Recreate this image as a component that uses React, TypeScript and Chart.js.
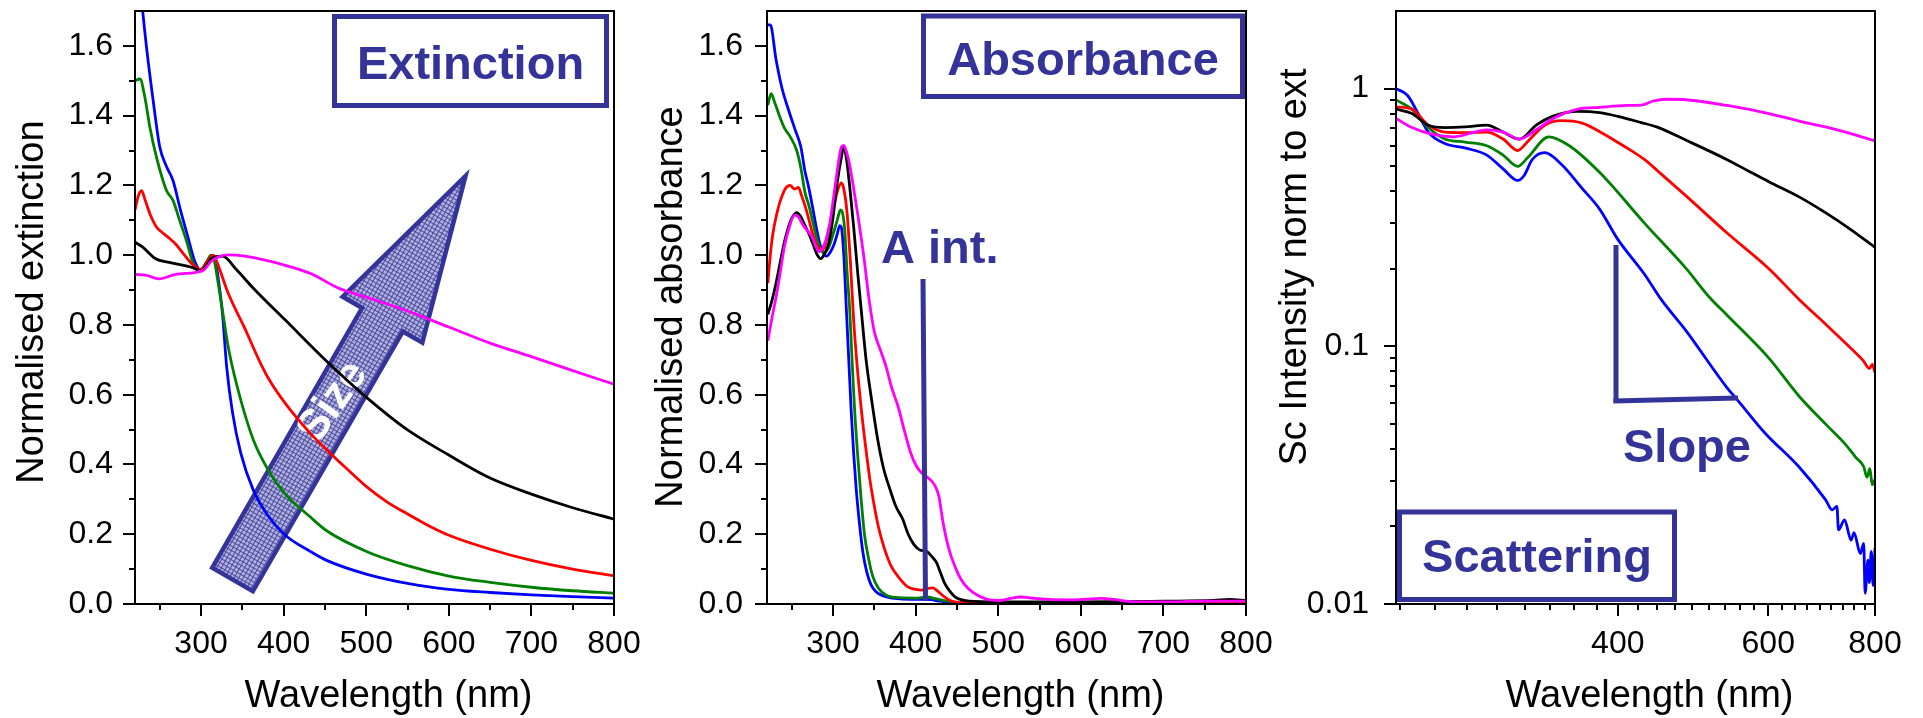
import React, { useEffect, useRef } from 'react';
import { Chart, registerables } from 'chart.js';

Chart.register(...registerables);

const FONT = '"Liberation Sans", Arial, Helvetica, sans-serif';
const NAVY = '#333399';
const BLUE = '#0000ff';
const GREEN = '#008000';
const RED = '#ff0000';
const BLACK = '#000000';
const MAGENTA = '#ff00ff';

type Pt = [number, number];

// ---------- Extinction spectra (normalised) ----------
const extBlue: Pt[] = [
  [220, 1.95], [229.3, 1.7], [234, 1.595], [242, 1.443], [250, 1.31], [258, 1.255], [266, 1.214],
  [275, 1.13], [284.5, 1.048], [292, 0.985], [299, 0.958], [305, 0.965], [310, 0.985], [314, 0.998],
  [318, 0.975], [321, 0.93], [326, 0.83], [331, 0.68], [338, 0.55], [348, 0.433], [363, 0.328],
  [382, 0.25], [402, 0.197], [432, 0.151], [452, 0.125], [501, 0.085], [550, 0.059], [600, 0.042],
  [650, 0.033], [700, 0.026], [750, 0.021], [800, 0.017],
];
const extGreen: Pt[] = [
  [220, 1.5], [226, 1.505], [232, 1.452], [238, 1.367], [246, 1.281], [258, 1.186], [266, 1.157],
  [274, 1.1], [282.5, 1.04], [290, 0.98], [299, 0.958], [306, 0.978], [312, 1.0], [316, 0.985],
  [320, 0.93], [326, 0.84], [333, 0.735], [343, 0.63], [363, 0.472], [382, 0.381], [402, 0.315],
  [432, 0.25], [452, 0.21], [501, 0.15], [550, 0.11], [600, 0.08], [650, 0.062], [700, 0.048],
  [750, 0.038], [800, 0.031],
];
const extRed: Pt[] = [
  [220, 1.13], [224, 1.17], [228, 1.185], [232, 1.16], [238, 1.119], [246, 1.081], [254, 1.063],
  [262, 1.048], [270, 1.03], [280, 1.0], [289, 0.975], [300, 0.958], [308, 0.984], [315, 1.0],
  [320, 0.975], [333, 0.89], [353, 0.79], [370, 0.7], [382, 0.645], [402, 0.575], [432, 0.49],
  [456, 0.433], [480, 0.38], [501, 0.335], [525, 0.293], [550, 0.258], [575, 0.225], [600, 0.197],
  [650, 0.157], [700, 0.125], [750, 0.1], [800, 0.081],
];
const extBlack: Pt[] = [
  [220, 1.037], [229, 1.024], [244, 0.991], [264, 0.978], [289, 0.965], [300, 0.955], [313, 0.991],
  [326, 0.997], [343, 0.958], [363, 0.906], [402, 0.814], [452, 0.696], [501, 0.591], [550, 0.499],
  [600, 0.427], [650, 0.361], [700, 0.315], [750, 0.276], [800, 0.243],
];
const extMagenta: Pt[] = [
  [220, 0.945], [234, 0.942], [249, 0.932], [269, 0.945], [294, 0.951], [303.5, 0.958], [313, 0.984],
  [333, 1.001], [353, 0.997], [402, 0.971], [432, 0.948], [466, 0.906], [501, 0.879], [550, 0.84],
  [600, 0.794], [650, 0.748], [700, 0.709], [750, 0.669], [800, 0.63],
];

// ---------- Absorbance spectra (normalised) ----------
const absBlue: Pt[] = [
  [221, 1.66], [224, 1.66], [231, 1.56], [238, 1.48], [246, 1.417], [254, 1.36], [261, 1.31],
  [266, 1.24], [270, 1.2], [275, 1.14], [280, 1.076], [285, 1.024], [292, 0.997], [297, 1.01],
  [301, 1.03], [305, 1.06], [308, 1.085], [310, 1.08], [313, 1.0], [316, 0.85], [319, 0.7],
  [322, 0.551], [325, 0.43], [328, 0.33], [332, 0.23], [336, 0.15], [341, 0.09], [346, 0.055],
  [352, 0.035], [360, 0.024], [375, 0.016], [395, 0.013], [413, 0.013], [430, 0.008], [445, 0.003],
  [460, 0.002], [500, 0.002], [800, 0.003],
];
const absGreen: Pt[] = [
  [221, 1.43], [225, 1.463], [229, 1.44], [235, 1.4], [241, 1.365], [248, 1.34], [256, 1.3],
  [261, 1.25], [266, 1.18], [271, 1.14], [275, 1.1], [280, 1.05], [284, 1.02], [289, 1.008],
  [295, 1.024], [300, 1.06], [305, 1.1], [309, 1.13], [311, 1.125], [314, 1.076], [317, 0.95],
  [320, 0.85], [323, 0.7], [326, 0.56], [330, 0.42], [334, 0.3], [338, 0.2], [343, 0.13],
  [348, 0.08], [355, 0.045], [364, 0.026], [380, 0.018], [400, 0.017], [413, 0.02], [425, 0.015],
  [440, 0.008], [460, 0.003], [800, 0.003],
];
const absRed: Pt[] = [
  [221, 0.92], [224, 1.0], [227, 1.06], [232, 1.12], [236, 1.155], [242, 1.19], [248, 1.2],
  [253, 1.19], [258, 1.194], [262, 1.17], [266, 1.142], [271, 1.1], [275, 1.063], [280, 1.03],
  [285, 1.015], [289, 1.02], [295, 1.076], [300, 1.13], [305, 1.181], [310, 1.207], [313, 1.19],
  [317, 1.12], [321, 0.98], [325, 0.81], [330, 0.66], [335, 0.54], [340, 0.44], [345, 0.35],
  [350, 0.28], [355, 0.22], [362, 0.16], [370, 0.11], [380, 0.075], [390, 0.05], [400, 0.042],
  [408, 0.04], [415, 0.045], [421, 0.046], [427, 0.036], [434, 0.022], [442, 0.01], [450, 0.005],
  [480, 0.004], [800, 0.006],
];
const absBlack: Pt[] = [
  [221, 0.83], [226, 0.87], [231, 0.92], [236, 0.98], [241, 1.037], [246, 1.08], [251, 1.11],
  [256, 1.122], [261, 1.11], [266, 1.085], [271, 1.06], [276, 1.03], [281, 1.0], [285, 0.99],
  [290, 1.005], [295, 1.037], [300, 1.11], [305, 1.207], [310, 1.28], [313, 1.31], [316, 1.28],
  [320, 1.2], [325, 1.08], [330, 0.945], [335, 0.82], [340, 0.7], [347, 0.58], [354, 0.472],
  [361, 0.39], [369, 0.328], [376, 0.28], [384, 0.245], [391, 0.2], [398, 0.17], [405, 0.155],
  [413, 0.151], [420, 0.135], [425, 0.12], [430, 0.09], [435, 0.06], [442, 0.035], [448, 0.02],
  [456, 0.012], [465, 0.008], [500, 0.006], [600, 0.006], [700, 0.008], [760, 0.01], [780, 0.013],
  [800, 0.01],
];
const absMagenta: Pt[] = [
  [221, 0.755], [226, 0.82], [231, 0.88], [236, 0.95], [241, 1.024], [247, 1.08], [253, 1.115],
  [258, 1.11], [263, 1.089], [269, 1.07], [275, 1.05], [280, 1.02], [283, 1.01], [287, 1.02],
  [291, 1.04], [296, 1.09], [300, 1.155], [305, 1.24], [310, 1.31], [313, 1.315], [317, 1.29],
  [320, 1.26], [325, 1.19], [330, 1.115], [337, 1.0], [344, 0.866], [350, 0.78], [357, 0.73],
  [364, 0.682], [371, 0.62], [379, 0.564], [386, 0.5], [394, 0.433], [401, 0.395], [408, 0.374],
  [416, 0.36], [423, 0.341], [428, 0.31], [433, 0.236], [440, 0.16], [448, 0.105], [455, 0.07],
  [463, 0.046], [475, 0.025], [487, 0.013], [502, 0.01], [515, 0.016], [527, 0.02], [545, 0.016],
  [561, 0.013], [590, 0.012], [625, 0.016], [640, 0.013], [660, 0.007], [700, 0.006], [750, 0.008],
  [800, 0.008],
];

// ---------- Scattering intensity normalised to extinction ----------
const scaBlue: Pt[] = [
  [220, 1.0], [227, 0.94], [233.5, 0.8], [240, 0.678], [251, 0.612], [265.6, 0.587], [281, 0.552],
  [293.6, 0.488], [305.4, 0.44], [310.6, 0.459], [317.6, 0.53], [328.4, 0.564], [343.5, 0.509],
  [363.3, 0.41], [381, 0.34], [400, 0.26], [430, 0.19], [449.5, 0.152], [480.6, 0.115],
  [537, 0.069], [552, 0.062], [595, 0.046], [652, 0.034], [700, 0.0254], [713, 0.0232],
  [722, 0.0239], [725, 0.0194], [737, 0.0212], [750, 0.0177], [756, 0.0189], [769, 0.0157],
  [776, 0.0172], [779, 0.011], [785, 0.0148], [788, 0.0121], [792, 0.016], [796, 0.0118],
  [800, 0.0165],
];
const scaGreen: Pt[] = [
  [220, 0.903], [229.6, 0.832], [240, 0.706], [251, 0.637], [265, 0.62], [281, 0.6], [293.6, 0.552],
  [305.4, 0.499], [314, 0.541], [332, 0.65], [351, 0.6], [381, 0.472], [430, 0.3], [481, 0.2],
  [512, 0.155], [537, 0.132], [601, 0.09], [652, 0.064], [700, 0.05], [737, 0.042],
  [760, 0.037], [776, 0.0341], [783, 0.031], [789, 0.0335], [794, 0.029], [800, 0.0305],
];
const scaRed: Pt[] = [
  [220, 0.849], [229.6, 0.832], [240, 0.721], [251, 0.678], [265, 0.675], [281, 0.678],
  [293.6, 0.637], [305.4, 0.575], [314, 0.625], [328.4, 0.721], [343.5, 0.751], [363.3, 0.735],
  [384.2, 0.67], [406, 0.6], [430, 0.53], [448, 0.471], [480, 0.385], [537, 0.275], [601, 0.2],
  [652, 0.152], [700, 0.122], [748, 0.099], [775, 0.088], [788, 0.082], [794, 0.085], [800, 0.079],
];
const scaBlack: Pt[] = [
  [220, 0.832], [229.6, 0.8], [240, 0.721], [251, 0.706], [265, 0.71], [281, 0.721], [293.6, 0.678],
  [307, 0.637], [321, 0.721], [336, 0.782], [359, 0.815], [381, 0.806], [400, 0.78], [426, 0.738],
  [444, 0.71], [481, 0.63], [537, 0.53], [568, 0.48], [601, 0.435], [652, 0.38], [700, 0.33],
  [748, 0.285], [800, 0.242],
];
const scaMagenta: Pt[] = [
  [220, 0.766], [229.6, 0.706], [243, 0.664], [257, 0.65], [281, 0.692], [293.6, 0.678],
  [307, 0.637], [321, 0.692], [336, 0.766], [359, 0.832], [381, 0.846], [410, 0.86], [428, 0.865],
  [440, 0.895], [456, 0.909], [481, 0.905], [537, 0.86], [601, 0.8], [652, 0.748], [700, 0.71],
  [748, 0.67], [800, 0.626],
];

// ---------- Axis ticks ----------
const linXMajor = [300, 400, 500, 600, 700, 800];
const linXMinor = [250, 350, 450, 550, 650, 750];
const linYMajor = [0, 0.2, 0.4, 0.6, 0.8, 1.0, 1.2, 1.4, 1.6];
const linYMinor = [0.1, 0.3, 0.5, 0.7, 0.9, 1.1, 1.3, 1.5];
const logXMajor = [400, 600, 800];
const logXMinor = [
  222.2, 244.4, 266.7, 288.9, 311.1, 333.3, 355.6, 377.8,
  422.2, 444.4, 466.7, 488.9, 511.1, 533.3, 555.6, 577.8,
  622.2, 644.4, 666.7, 688.9, 711.1, 733.3, 755.6, 777.8,
];
const logYMajor = [0.01, 0.1, 1];
const logYMinor = [
  0.02, 0.03, 0.04, 0.05, 0.06, 0.07, 0.08, 0.09,
  0.2, 0.3, 0.4, 0.5, 0.6, 0.7, 0.8, 0.9,
];

const W = 1923;
const H = 718;

type Area = { left: number; top: number; right: number; bottom: number };

type Panel = {
  area: Area;
  xType: 'linear' | 'logarithmic';
  yType: 'linear' | 'logarithmic';
  xMin: number; xMax: number; yMin: number; yMax: number;
  xMajor: number[]; xMinor: number[]; yMajor: number[]; yMinor: number[];
  yFmt: (v: number) => string;
  yLabelGap: number;
  yTitle: string; yTitleGap: number; yTitleY: number;
  series: { data: Pt[]; color: string }[];
  under?: (ctx: CanvasRenderingContext2D, a: Area) => void;
  over?: (ctx: CanvasRenderingContext2D, a: Area) => void;
};

function titledBox(
  ctx: CanvasRenderingContext2D, a: Area,
  x0: number, y0: number, x1: number, y1: number,
  text: string, baseline: number,
) {
  const lw = 5;
  ctx.save();
  ctx.fillStyle = '#ffffff';
  ctx.fillRect(a.left + x0, a.top + y0, x1 - x0, y1 - y0);
  ctx.strokeStyle = NAVY;
  ctx.lineWidth = lw;
  ctx.strokeRect(a.left + x0 + lw / 2, a.top + y0 + lw / 2, x1 - x0 - lw, y1 - y0 - lw);
  ctx.fillStyle = NAVY;
  ctx.font = `bold 47px ${FONT}`;
  ctx.textAlign = 'center';
  ctx.textBaseline = 'alphabetic';
  ctx.fillText(text, a.left + (x0 + x1) / 2, a.top + baseline);
  ctx.restore();
}

function navyText(ctx: CanvasRenderingContext2D, a: Area, text: string, x: number, baseline: number) {
  ctx.save();
  ctx.fillStyle = NAVY;
  ctx.font = `bold 47px ${FONT}`;
  ctx.textAlign = 'left';
  ctx.textBaseline = 'alphabetic';
  ctx.fillText(text, a.left + x, a.top + baseline);
  ctx.restore();
}

function navyLine(ctx: CanvasRenderingContext2D, a: Area, pts: number[][]) {
  ctx.save();
  ctx.strokeStyle = NAVY;
  ctx.lineWidth = 5;
  ctx.lineCap = 'butt';
  ctx.lineJoin = 'miter';
  ctx.beginPath();
  pts.forEach(([x, y], i) => {
    if (i === 0) ctx.moveTo(a.left + x, a.top + y);
    else ctx.lineTo(a.left + x, a.top + y);
  });
  ctx.stroke();
  ctx.restore();
}

function hatchPattern(ctx: CanvasRenderingContext2D) {
  const c = document.createElement('canvas');
  c.width = 4;
  c.height = 4;
  const g = c.getContext('2d')!;
  g.fillStyle = '#b2b2dc';
  g.fillRect(0, 0, 4, 4);
  g.fillStyle = '#4a4aa2';
  g.fillRect(0, 0, 4, 1);
  g.fillRect(0, 0, 1, 4);
  return ctx.createPattern(c, 'repeat');
}

// Block arrow labelled "Size", pointing up-right across the extinction curves
function sizeArrow(ctx: CanvasRenderingContext2D, a: Area) {
  const tail = { x: a.left + 97.5, y: a.top + 568.5 };
  const ang = (-60 * Math.PI) / 180;
  const shaftLen = 300;
  const headLen = 166;
  const shaftHalf = 23.5;
  const headHalf = 46;
  ctx.save();
  ctx.translate(tail.x, tail.y);
  ctx.rotate(ang);
  ctx.beginPath();
  ctx.moveTo(0, -shaftHalf);
  ctx.lineTo(shaftLen, -shaftHalf);
  ctx.lineTo(shaftLen, -headHalf);
  ctx.lineTo(shaftLen + headLen, 0);
  ctx.lineTo(shaftLen, headHalf);
  ctx.lineTo(shaftLen, shaftHalf);
  ctx.lineTo(0, shaftHalf);
  ctx.closePath();
  ctx.fillStyle = hatchPattern(ctx) || '#8080c0';
  ctx.fill();
  ctx.strokeStyle = NAVY;
  ctx.lineWidth = 4.5;
  ctx.lineJoin = 'miter';
  ctx.stroke();
  ctx.restore();

  ctx.save();
  ctx.translate(a.left + 198, a.top + 391);
  ctx.rotate((-55 * Math.PI) / 180);
  ctx.fillStyle = '#ffffff';
  ctx.font = `bold 44px ${FONT}`;
  ctx.textAlign = 'center';
  ctx.textBaseline = 'middle';
  ctx.fillText('Size', 0, 0);
  ctx.restore();
}

const panels: Panel[] = [
  {
    area: { left: 135, top: 11, right: 614, bottom: 604 },
    xType: 'linear', yType: 'linear',
    xMin: 220, xMax: 800, yMin: 0, yMax: 1.7,
    xMajor: linXMajor, xMinor: linXMinor, yMajor: linYMajor, yMinor: linYMinor,
    yFmt: (v) => v.toFixed(1),
    yLabelGap: 22,
    yTitle: 'Normalised extinction', yTitleGap: 92, yTitleY: 302,
    series: [
      { data: extMagenta, color: MAGENTA },
      { data: extBlack, color: BLACK },
      { data: extRed, color: RED },
      { data: extGreen, color: GREEN },
      { data: extBlue, color: BLUE },
    ],
    under: sizeArrow,
    over: (ctx, a) => {
      titledBox(ctx, a, 197, 3, 474, 97, 'Extinction', 68);
    },
  },
  {
    area: { left: 767, top: 11, right: 1246, bottom: 604 },
    xType: 'linear', yType: 'linear',
    xMin: 220, xMax: 800, yMin: 0, yMax: 1.7,
    xMajor: linXMajor, xMinor: linXMinor, yMajor: linYMajor, yMinor: linYMinor,
    yFmt: (v) => v.toFixed(1),
    yLabelGap: 24,
    yTitle: 'Normalised absorbance', yTitleGap: 85, yTitleY: 307,
    series: [
      { data: absMagenta, color: MAGENTA },
      { data: absBlack, color: BLACK },
      { data: absRed, color: RED },
      { data: absGreen, color: GREEN },
      { data: absBlue, color: BLUE },
    ],
    over: (ctx, a) => {
      titledBox(ctx, a, 154, 2.5, 478, 88, 'Absorbance', 64);
      navyText(ctx, a, 'A int.', 114, 252);
      navyLine(ctx, a, [[156, 268], [158.5, 590]]);
    },
  },
  {
    area: { left: 1396, top: 11, right: 1875, bottom: 604 },
    xType: 'logarithmic', yType: 'logarithmic',
    xMin: 220, xMax: 800, yMin: 0.01, yMax: 2,
    xMajor: logXMajor, xMinor: logXMinor, yMajor: logYMajor, yMinor: logYMinor,
    yFmt: (v) => String(v),
    yLabelGap: 27,
    yTitle: 'Sc Intensity norm to ext', yTitleGap: 90, yTitleY: 267,
    series: [
      { data: scaMagenta, color: MAGENTA },
      { data: scaBlack, color: BLACK },
      { data: scaRed, color: RED },
      { data: scaGreen, color: GREEN },
      { data: scaBlue, color: BLUE },
    ],
    over: (ctx, a) => {
      titledBox(ctx, a, 1, 498.5, 281, 591, 'Scattering', 561);
      navyText(ctx, a, 'Slope', 227, 451);
      navyLine(ctx, a, [[220, 234], [220, 392]]);
      navyLine(ctx, a, [[217.5, 390], [342, 387]]);
    },
  },
];

function axesPlugin(p: Panel) {
  return {
    id: 'panelAxes',
    beforeDatasetsDraw(chart: any) {
      if (p.under) p.under(chart.ctx, chart.chartArea);
    },
    afterDatasetsDraw(chart: any) {
      const ctx: CanvasRenderingContext2D = chart.ctx;
      const a: Area = chart.chartArea;
      const xs = chart.scales.x;
      const ys = chart.scales.y;
      ctx.save();
      ctx.strokeStyle = '#000';
      ctx.lineWidth = 2;
      ctx.strokeRect(a.left, a.top, a.right - a.left, a.bottom - a.top);

      ctx.beginPath();
      const xTick = (v: number, len: number) => {
        const px = Math.round(xs.getPixelForValue(v));
        ctx.moveTo(px, a.bottom);
        ctx.lineTo(px, a.bottom + len);
      };
      const yTick = (v: number, len: number) => {
        const py = Math.round(ys.getPixelForValue(v));
        ctx.moveTo(a.left, py);
        ctx.lineTo(a.left - len, py);
      };
      p.xMajor.forEach((v) => xTick(v, 12));
      p.xMinor.forEach((v) => xTick(v, 6));
      p.yMajor.forEach((v) => yTick(v, 12));
      p.yMinor.forEach((v) => yTick(v, 6));
      ctx.stroke();

      ctx.fillStyle = '#000';
      ctx.font = `32px ${FONT}`;
      ctx.textAlign = 'center';
      ctx.textBaseline = 'alphabetic';
      p.xMajor.forEach((v) => ctx.fillText(String(v), xs.getPixelForValue(v), a.bottom + 49));
      ctx.textAlign = 'right';
      ctx.textBaseline = 'middle';
      p.yMajor.forEach((v) => ctx.fillText(p.yFmt(v), a.left - p.yLabelGap, ys.getPixelForValue(v)));

      ctx.font = `38px ${FONT}`;
      ctx.textAlign = 'center';
      ctx.textBaseline = 'alphabetic';
      ctx.fillText('Wavelength (nm)', (a.left + a.right) / 2 + 14, a.bottom + 103);
      ctx.save();
      ctx.translate(a.left - p.yTitleGap, p.yTitleY);
      ctx.rotate(-Math.PI / 2);
      ctx.fillText(p.yTitle, 0, 0);
      ctx.restore();
      ctx.restore();

      if (p.over) p.over(ctx, a);
    },
  };
}

function PanelChart({ panel }: { panel: Panel }) {
  const ref = useRef<HTMLCanvasElement | null>(null);
  useEffect(() => {
    if (!ref.current) return;
    const a = panel.area;
    const chart = new Chart(ref.current, {
      type: 'line',
      data: {
        datasets: panel.series.map((s) => ({
          data: s.data.map(([x, y]) => ({ x, y })),
          borderColor: s.color,
          borderWidth: 2.8,
          pointRadius: 0,
          fill: false,
          cubicInterpolationMode: 'monotone' as const,
        })),
      },
      options: {
        responsive: false,
        animation: false,
        events: [],
        layout: { padding: { left: a.left, top: a.top, right: W - a.right, bottom: H - a.bottom } },
        plugins: { legend: { display: false }, tooltip: { enabled: false } },
        scales: {
          x: { type: panel.xType, min: panel.xMin, max: panel.xMax, display: false },
          y: { type: panel.yType, min: panel.yMin, max: panel.yMax, display: false },
        },
      },
      plugins: [axesPlugin(panel)],
    } as any);
    return () => chart.destroy();
  }, [panel]);
  return (
    <canvas
      ref={ref}
      width={W}
      height={H}
      style={{ position: 'absolute', left: 0, top: 0, width: W, height: H }}
    />
  );
}

export default function App() {
  return (
    <div
      style={{
        position: 'fixed', left: 0, top: 0, width: W, height: H,
        background: '#ffffff', overflow: 'hidden',
      }}
    >
      {panels.map((p, i) => (
        <PanelChart key={i} panel={p} />
      ))}
    </div>
  );
}
